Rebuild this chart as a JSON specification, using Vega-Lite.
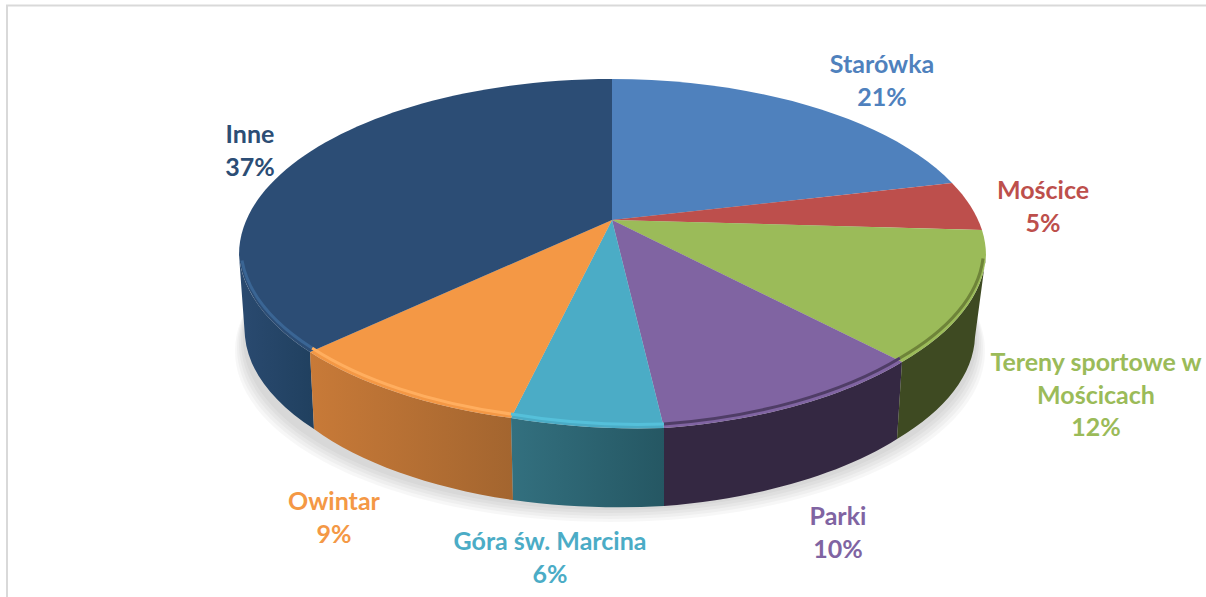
{
"$schema":"https://vega.github.io/schema/vega-lite/v6.json",
"width":1206,"height":597,"autosize":{"type":"none"},"padding":0,"background":"#ffffff",
"config":{"view":{"stroke":null}},
"data":{"values":[
{"slice":"Starówka","value":21,"label":"Starówka\n21%"},
{"slice":"Mościce","value":5,"label":"Mościce\n5%"},
{"slice":"Tereny sportowe w Mościcach","value":12,"label":"Tereny sportowe w\nMościcach\n12%"},
{"slice":"Parki","value":10,"label":"Parki\n10%"},
{"slice":"Góra św. Marcina","value":6,"label":"Góra św. Marcina\n6%"},
{"slice":"Owintar","value":9,"label":"Owintar\n9%"},
{"slice":"Inne","value":37,"label":"Inne\n37%"}
]},
"resolve":{"scale":{"shape":"independent","color":"independent","x":"independent","y":"independent"}},
"layer":[
{"transform":[{"filter":"datum.value===37"}],"mark":{"type":"point","filled":true,"opacity":0.03,"size":4,"color":"#000000","shape":"M-368 52.5 A375 171 0 1 0 382 52.5 A375 171 0 1 0 -368 52.5 Z"},"encoding":{}},
{"transform":[{"filter":"datum.value===37"}],"mark":{"type":"point","filled":true,"opacity":0.03,"size":4,"color":"#000000","shape":"M-366 49.5 A373 171 0 1 0 380 49.5 A373 171 0 1 0 -366 49.5 Z"},"encoding":{}},
{"transform":[{"filter":"datum.value===37"}],"mark":{"type":"point","filled":true,"opacity":0.03,"size":4,"color":"#000000","shape":"M-364 46.5 A371 171 0 1 0 378 46.5 A371 171 0 1 0 -364 46.5 Z"},"encoding":{}},
{"transform":[{"filter":"datum.value===37"}],"mark":{"type":"point","filled":true,"opacity":0.03,"size":4,"color":"#000000","shape":"M-362 43.5 A369 171 0 1 0 376 43.5 A369 171 0 1 0 -362 43.5 Z"},"encoding":{}},
{"transform":[{"filter":"datum.value===37"}],"mark":{"type":"point","filled":true,"opacity":0.03,"size":4,"color":"#000000","shape":"M-360 40.5 A367 171 0 1 0 374 40.5 A367 171 0 1 0 -360 40.5 Z"},"encoding":{}},
{"transform":[{"filter":"datum.slice==='Inne'"}],"mark":{"type":"point","filled":true,"opacity":1,"size":4,"color":{"x1":0,"y1":0,"x2":1,"y2":0,"gradient":"linear","stops":[{"offset":0,"color":"#2a4a70"},{"offset":1,"color":"#20405f"}]},"shape":"M-364 -43.5 A373.5 176 0 0 0 -293 53.5 L-289 130.5 A365 170 0 0 1 -358 38.5 Z"},"encoding":{}},
{"transform":[{"filter":"datum.slice==='Owintar'"}],"mark":{"type":"point","filled":true,"opacity":1,"size":4,"color":{"x1":0,"y1":0,"x2":1,"y2":0,"gradient":"linear","stops":[{"offset":0,"color":"#c87a38"},{"offset":1,"color":"#a3652f"}]},"shape":"M-293 53.5 A373.5 176 0 0 0 -92 119.5 L-90 201.5 A365 170 0 0 1 -289 130.5 Z"},"encoding":{}},
{"transform":[{"filter":"datum.slice==='Góra św. Marcina'"}],"mark":{"type":"point","filled":true,"opacity":1,"size":4,"color":{"x1":0,"y1":0,"x2":1,"y2":0,"gradient":"linear","stops":[{"offset":0,"color":"#33707f"},{"offset":1,"color":"#255763"}]},"shape":"M-92 119.5 A373.5 176 0 0 0 61 129.5 L61 207.5 A365 170 0 0 1 -90 201.5 Z"},"encoding":{}},
{"transform":[{"filter":"datum.slice==='Parki'"}],"mark":{"type":"point","filled":true,"opacity":1,"size":4,"color":"#342842","shape":"M61 129.5 A373.5 176 0 0 0 299 63.5 L294 140.5 A365 170 0 0 1 61 207.5 Z"},"encoding":{}},
{"transform":[{"filter":"datum.slice==='Tereny sportowe w Mościcach'"}],"mark":{"type":"point","filled":true,"opacity":1,"size":4,"color":"#3e4a22","shape":"M299 63.5 A373.5 176 0 0 0 383 -43.5 L372 38.5 A365 170 0 0 1 294 140.5 Z"},"encoding":{}},
{"mark":{"type":"point","filled":true,"opacity":1,"size":4},
 "encoding":{
  "shape":{"field":"slice","type":"nominal","legend":null,"scale":{"domain":["Starówka","Mościce","Tereny sportowe w Mościcach","Parki","Góra św. Marcina","Owintar","Inne"],"range":[
   "M9 -78.5 L9 -219.5 A373.5 176 0 0 1 349 -115.5 Z",
   "M9 -78.5 L349 -115.5 A373.5 176 0 0 1 379 -68.5 Z",
   "M9 -78.5 L379 -68.5 A373.5 176 0 0 1 383 -43.5 A373.5 176 0 0 1 299 63.5 Z",
   "M9 -78.5 L299 63.5 A373.5 176 0 0 1 61 129.5 Z",
   "M9 -78.5 L61 129.5 A373.5 176 0 0 1 -92 119.5 Z",
   "M9 -78.5 L-92 119.5 A373.5 176 0 0 1 -293 53.5 Z",
   "M9 -78.5 L-293 53.5 A373.5 176 0 0 1 -364 -43.5 A373.5 176 0 0 1 9 -219.5 Z"]}},
  "color":{"field":"slice","type":"nominal","legend":null,"scale":{"domain":["Starówka","Mościce","Tereny sportowe w Mościcach","Parki","Góra św. Marcina","Owintar","Inne"],"range":["#4f81bd","#bd4f4c","#9bbb59","#8064a2","#4bacc6","#f49845","#2c4d75"]}}
 }},
{"transform":[{"filter":"datum.value!==21 && datum.value!==5"}],"mark":{"type":"point","filled":false,"opacity":1,"size":4,"strokeWidth":3},
 "encoding":{
  "shape":{"field":"slice","type":"nominal","legend":null,"scale":{"domain":["Tereny sportowe w Mościcach","Parki","Góra św. Marcina","Owintar","Inne"],"range":[
   "M297 59.5 A370 173 0 0 0 380 -40",
   "M61 125.5 A373.5 176 0 0 0 297 59.5",
   "M-92 115.5 A373.5 176 0 0 0 61 125.5",
   "M-291 49.5 A373.5 176 0 0 0 -92 115.5",
   "M-361 -38 A370 173 0 0 0 -291 49.5"]}},
  "color":{"field":"slice","type":"nominal","legend":null,"scale":{"domain":["Tereny sportowe w Mościcach","Parki","Góra św. Marcina","Owintar","Inne"],"range":["#6e8439","#4f3d66","#55c0da","#ffae5f","#3a6594"]}}
 }},
{"transform":[{"filter":"datum.value===37"}],"mark":{"type":"point","filled":false,"opacity":1,"size":4,"strokeWidth":2,"color":"#d9d9d9","shape":"M-596 298.5 L-596 -293 L603 -293"},"encoding":{}},
{"mark":{"type":"text","font":"Lato","fontWeight":"bold","fontSize":25,"lineHeight":32.5,"lineBreak":"\n","align":"center","baseline":"middle"},
 "encoding":{
  "text":{"field":"label","type":"nominal"},
  "x":{"field":"value","type":"quantitative","axis":null,"scale":{"domain":[5,6,9,10,12,21,37],"range":[1043,550,334,838,1096,882,250]}},
  "y":{"field":"value","type":"quantitative","axis":null,"scale":{"domain":[5,6,9,10,12,21,37],"range":[191,542,502,517,363,65,135]}},
  "color":{"field":"slice","type":"nominal","legend":null,"scale":{"domain":["Starówka","Mościce","Tereny sportowe w Mościcach","Parki","Góra św. Marcina","Owintar","Inne"],"range":["#4f81bd","#bd4f4c","#9bbb59","#8064a2","#4bacc6","#f49845","#2c4d75"]}}
 }}
]}
